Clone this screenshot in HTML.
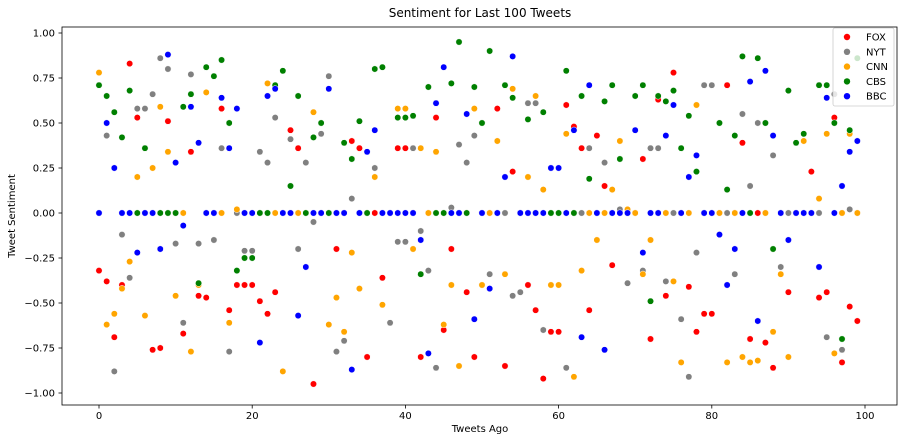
<!DOCTYPE html>
<html><head><meta charset="utf-8"><style>
html,body{margin:0;padding:0;background:#fff;}
svg{display:block;font-family:"DejaVu Sans","Liberation Sans",sans-serif;}
</style></head><body>
<svg id="chart" width="906" height="441" viewBox="0 0 906 441">
<rect x="0" y="0" width="906" height="441" fill="#fff"/>
<text x="480" y="17" font-size="12" text-anchor="middle" fill="#000">Sentiment for Last 100 Tweets</text>
<text x="480" y="432" font-size="10" text-anchor="middle" fill="#000">Tweets Ago</text>
<text x="15" y="216" font-size="10" text-anchor="middle" fill="#000" transform="rotate(-90 15 216)">Tweet Sentiment</text>
<g id="ticks"></g>
<g id="marks"></g>
<rect x="62" y="27" width="835" height="378" fill="none" stroke="#000" stroke-width="0.8"/>
<g id="legend"></g>
</svg>
<script>
const xTicks = [0, 20, 40, 60, 80, 100];
const yTicks = [1.0, 0.75, 0.5, 0.25, 0.0, -0.25, -0.5, -0.75, -1.0];
const yTickLabels = ["1.00", "0.75", "0.50", "0.25", "0.00", "\u22120.25", "\u22120.50", "\u22120.75", "\u22121.00"];
const seriesNames = ["FOX", "NYT", "CNN", "CBS", "BBC"];
const foxValues = [-0.32,-0.38,-0.69,-0.40,0.83,0.53,0,-0.76,-0.75,0.51,0,-0.67,0.34,-0.46,-0.47,0,0.58,-0.54,-0.40,-0.40,-0.40,-0.49,-0.56,-0.44,0,0.46,0.36,0,-0.95,0,0,-0.20,0,0.40,0.36,-0.80,0,-0.36,0,0.36,0.36,0,-0.80,0,0.53,-0.65,-0.20,0,-0.44,-0.80,0,0,0.58,-0.85,0.23,0,-0.40,-0.54,-0.92,-0.66,-0.66,0.60,0.48,0.36,-0.54,0.43,0.15,-0.29,0,0,0,0.30,-0.70,0.63,-0.46,0.78,0,-0.41,-0.66,-0.56,-0.56,0,0.71,0,0.39,-0.70,0,-0.72,-0.86,0,-0.44,0,0,0.23,-0.47,-0.44,0.53,-0.83,-0.52,-0.60];
const nytValues = [0,0.43,-0.88,-0.12,-0.36,0.58,0.58,0.66,0.86,0.80,-0.17,-0.61,0.77,-0.17,0,-0.15,0.36,-0.77,0,-0.21,-0.21,0.34,0.28,0.53,0,0.41,-0.20,0.28,-0.05,0.44,0.76,-0.77,-0.71,0.08,0,0,0.25,0,-0.61,-0.16,-0.16,0.36,-0.10,-0.32,-0.86,0,0.03,0.38,0.28,0.43,0,-0.34,0,0,-0.46,-0.44,0.61,0.61,-0.65,0.25,0.25,-0.86,0,0,0.36,0,0.28,0,0.02,-0.39,0,-0.32,0.36,0.36,-0.38,0,-0.59,-0.91,-0.22,0.71,0.71,0,0,-0.34,0.55,0.15,0.50,0,0.32,-0.30,0,0,0,0,0,-0.69,0.66,-0.76,0.02,0];
const cnnValues = [0.78,-0.62,-0.56,-0.42,-0.27,0.20,-0.57,0.25,0.59,0.34,-0.46,0,-0.77,-0.40,0.67,0,0,-0.61,0.02,0,0,0,0.72,0,-0.88,0,0,0,0.56,0,-0.62,-0.47,-0.66,-0.22,-0.42,0,0.20,-0.51,0,0.58,0.58,-0.20,0.36,0,0.34,-0.62,-0.40,-0.85,0,0.58,-0.40,0,0.40,-0.34,0.69,0,0.20,0.65,0.13,-0.40,-0.40,0.44,-0.91,-0.32,0,-0.15,0,0.13,0.40,0.02,0,-0.34,-0.15,0,0,-0.38,-0.83,0,0.60,0,0,0,-0.83,0,-0.80,-0.83,-0.82,0,-0.66,-0.34,-0.80,0,0.40,0,0.08,0.44,-0.78,0,0.44,0];
const cbsValues = [0.71,0.65,0.56,0.42,0.68,0,0.36,0,0,0,0,0.59,0.66,-0.39,0.81,0.76,0.85,0.50,-0.32,-0.25,-0.25,0,0,0.71,0.79,0.15,0.65,0,0.42,0.50,0,0,0.39,0.30,0.51,0,0.80,0.81,0,0.53,0.53,0.54,-0.34,0.70,0,0,0.72,0.95,0,0.70,0.50,0.90,0,0.71,0.64,0,0.52,0,0.56,0,0,0.79,0,0.65,0.19,0,0.62,0.71,0.30,0,0.65,0.71,-0.49,0.65,0.62,0.68,0.36,0.54,0.23,0,0,0.50,0.13,0.43,0.87,0,0.86,0.50,-0.20,0,0.68,0.39,0.44,0,0.71,0.71,0.50,-0.70,0.46,0.86];
const bbcValues = [0,0.50,0.25,0,0,-0.22,0,0,-0.20,0.88,0.28,-0.07,0.59,0.39,0,0,0.64,0.36,0.58,0,0,-0.72,0.65,0.69,0,0,-0.57,-0.30,0,0,0.69,0,0,-0.87,0,0.34,0.46,0,0,0,0,0,-0.15,-0.78,0.61,0.81,0,0,0.55,-0.59,0,-0.42,0,0.20,0.87,0,0,0,0,0.25,0.25,0,0.46,-0.69,0.71,0,-0.76,0,0,0,0.46,-0.22,0,0,0.43,0.60,0,0.20,0.32,0,0,-0.12,-0.40,-0.20,0,0.73,-0.60,0.79,0.43,0,-0.15,0,0,0,-0.30,0.64,0,0.15,0.34,0.40];
const seriesColors = ["#ff0000", "#808080", "#ffa500", "#008000", "#0000ff"];

const NS = "http://www.w3.org/2000/svg";
function xScale(v){ return 99 + v * 7.66; }
function yScale(v){ return 213 - v * 180; }

const ticksG = document.getElementById('ticks');
xTicks.forEach(function(t){
  const x = xScale(t);
  const l = document.createElementNS(NS, 'line');
  l.setAttribute('x1', x); l.setAttribute('x2', x);
  l.setAttribute('y1', 405); l.setAttribute('y2', 408.5);
  l.setAttribute('stroke', '#000'); l.setAttribute('stroke-width', '0.8');
  
  
  ticksG.appendChild(l);
  const tx = document.createElementNS(NS, 'text');
  tx.setAttribute('x', x); tx.setAttribute('y', 419);
  tx.setAttribute('font-size', '10'); tx.setAttribute('text-anchor', 'middle');
  tx.textContent = String(t);
  
  
  ticksG.appendChild(tx);
});
yTicks.forEach(function(t, i){
  const y = yScale(t);
  const l = document.createElementNS(NS, 'line');
  l.setAttribute('x1', 58.5); l.setAttribute('x2', 62);
  l.setAttribute('y1', y); l.setAttribute('y2', y);
  l.setAttribute('stroke', '#000'); l.setAttribute('stroke-width', '0.8');
  
  
  ticksG.appendChild(l);
  const tx = document.createElementNS(NS, 'text');
  tx.setAttribute('x', 55); tx.setAttribute('y', y + 3.5);
  tx.setAttribute('font-size', '10'); tx.setAttribute('text-anchor', 'end');
  tx.textContent = yTickLabels[i];
  
  
  ticksG.appendChild(tx);
});

const allValues = [foxValues, nytValues, cnnValues, cbsValues, bbcValues];
const marksG = document.getElementById('marks');
allValues.forEach(function(vals, s){
  const g = document.createElementNS(NS, 'g');
  
  
  vals.forEach(function(v, i){
    const c = document.createElementNS(NS, 'circle');
    c.setAttribute('cx', xScale(i));
    c.setAttribute('cy', yScale(v));
    c.setAttribute('r', 3.2);
    c.setAttribute('fill', seriesColors[s]);
    c.setAttribute('stroke', '#fff');
    c.setAttribute('stroke-width', '0.5');
    
    
    g.appendChild(c);
  });
  marksG.appendChild(g);
});

const legG = document.getElementById('legend');
const box = document.createElementNS(NS, 'rect');
box.setAttribute('x', 833); box.setAttribute('y', 28);
box.setAttribute('width', 61); box.setAttribute('height', 78);
box.setAttribute('rx', 2);
box.setAttribute('fill', '#fff'); box.setAttribute('fill-opacity', '0.8');
box.setAttribute('stroke', '#ccc'); box.setAttribute('stroke-width', '0.8');


legG.appendChild(box);
seriesNames.forEach(function(n, i){
  const y = 37 + i * 14.8;
  const c = document.createElementNS(NS, 'circle');
  c.setAttribute('cx', 847); c.setAttribute('cy', y); c.setAttribute('r', 3.2);
  c.setAttribute('fill', seriesColors[i]);
  
  
  legG.appendChild(c);
  const t = document.createElementNS(NS, 'text');
  t.setAttribute('x', 866); t.setAttribute('y', y + 3.5);
  t.setAttribute('font-size', '10');
  t.textContent = n;
  
  
  legG.appendChild(t);
});
</script>
</body></html>
